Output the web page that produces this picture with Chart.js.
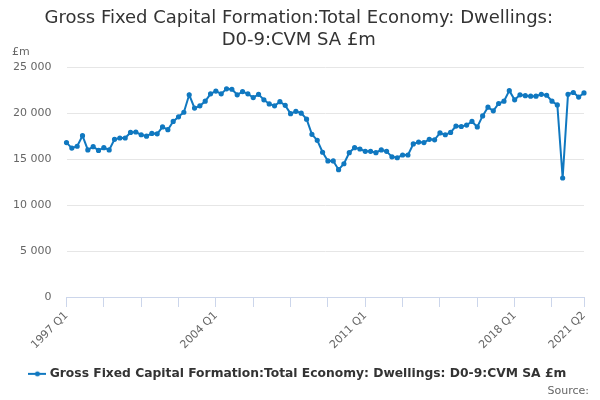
<!DOCTYPE html>
<html lang="en">
  <head>
    <meta charset="UTF-8" />
    <title>Dwellings GFCF</title>
    <script src="https://cdn.jsdelivr.net/npm/chart.js"></script>
    <style>
      body {
        margin: 0;
        background: #ffffff;
        font-family: "DejaVu Sans", sans-serif;
      }
      .wrap {
        position: relative;
        width: 600px;
        height: 400px;
      }
      .unit {
        position: absolute;
        left: 12px;
        top: 45px;
        font-size: 11px;
        color: #666666;
      }
      .source {
        position: absolute;
        right: 11px;
        top: 384px;
        font-size: 11px;
        color: #666666;
      }
    </style>
  </head>
  <body>
    <div class="wrap">
      <canvas id="gfcfChart" width="600" height="400"></canvas>
      <div class="unit">£m</div>
      <div class="source">Source:</div>
    </div>

    <script>
      const seriesName = "Gross Fixed Capital Formation:Total Economy: Dwellings: D0-9:CVM SA £m";
      const firstYear = 1997;
      const lastLabel = "2021 Q2";
      const shownLabels = ["1997 Q1", "2004 Q1", "2011 Q1", "2018 Q1", "2021 Q2"];

      // quarterly, 1997 Q1 .. 2021 Q2 (£m)
      const dwellings = [
        16800, 16200, 16400, 17550, 16000, 16350, 15950, 16250,
        16000, 17150, 17300, 17300, 17900, 17950, 17650, 17500,
        17800, 17750, 18500, 18200, 19100, 19600, 20100, 22000,
        20550, 20800, 21300, 22100, 22400, 22100, 22650, 22600,
        22000, 22350, 22100, 21700, 22050, 21450, 21000, 20800,
        21250, 20850, 19950, 20200, 20000, 19350, 17700, 17050,
        15750, 14800, 14800, 13850, 14500, 15700, 16250, 16100,
        15850, 15850, 15700, 16000, 15850, 15250, 15150, 15450,
        15450, 16650, 16850, 16800, 17150, 17100, 17850, 17650,
        17900, 18600, 18550, 18700, 19100, 18500, 19700, 20650,
        20250, 21050, 21300, 22450, 21450, 22000, 21900, 21850,
        21850, 22050, 21950, 21300, 20900, 12950, 22050, 22250,
        21750, 22200
      ];

      const quarters = [];
      for (let i = 0; i < dwellings.length; i++) {
        quarters.push(firstYear + Math.floor(i / 4) + " Q" + ((i % 4) + 1));
      }

      const yTicks = [0, 5000, 10000, 15000, 20000, 25000];
      const lineColor = "#1078c0";

      // legend symbol: short line with a dot
      const symbol = document.createElement("canvas");
      symbol.width = 18;
      symbol.height = 8;
      const sctx = symbol.getContext("2d");
      sctx.strokeStyle = lineColor;
      sctx.lineWidth = 2;
      sctx.beginPath();
      sctx.moveTo(0, 4);
      sctx.lineTo(18, 4);
      sctx.stroke();
      sctx.fillStyle = lineColor;
      sctx.beginPath();
      sctx.arc(9, 4, 2.5, 0, Math.PI * 2);
      sctx.fill();

      function isTickIndex(i) {
        return i % 7 === 0 || quarters[i] === lastLabel;
      }

      Chart.defaults.font.family = "'DejaVu Sans', sans-serif";

      new Chart(document.getElementById("gfcfChart").getContext("2d"), {
        type: "line",
        data: {
          labels: quarters,
          datasets: [
            {
              label: seriesName,
              data: dwellings,
              borderColor: lineColor,
              backgroundColor: lineColor,
              borderWidth: 2,
              pointRadius: 1.6,
              pointHoverRadius: 3,
              tension: 0,
              pointStyle: "circle",
            },
          ],
        },
        options: {
          responsive: false,
          animation: false,
          layout: { padding: { left: 13.5, right: 16, bottom: 10 } },
          plugins: {
            title: {
              display: true,
              text: [
                "Gross Fixed Capital Formation:Total Economy: Dwellings:",
                "D0-9:CVM SA £m",
              ],
              color: "#333333",
              font: { size: 18, weight: "normal" },
              padding: { top: 8, bottom: 16 },
            },
            legend: {
              position: "bottom",
              labels: {
                usePointStyle: true,
                pointStyle: symbol,
                color: "#333333",
                font: { size: 12.3, weight: "bold" },
                padding: 10,
                generateLabels(chart) {
                  return [{
                    text: seriesName,
                    pointStyle: symbol,
                    fontColor: "#333333",
                    datasetIndex: 0,
                    hidden: false,
                  }];
                },
              },
            },
            tooltip: { enabled: false },
          },
          scales: {
            x: {
              type: "category",
              offset: false,
              border: { color: "#ccd6eb", width: 1 },
              grid: {
                drawOnChartArea: false,
                drawTicks: true,
                tickLength: 10,
                color: (c) => (isTickIndex(c.index) ? "#ccd6eb" : "rgba(0,0,0,0)"),
              },
              ticks: {
                autoSkip: false,
                minRotation: 45,
                maxRotation: 45,
                color: "#666666",
                font: { size: 11 },
                padding: 2,
                callback: (val, i) => (shownLabels.includes(quarters[i]) ? quarters[i] : ""),
              },
              afterFit: (axis) => {
                axis.height += 4;
              },
            },
            y: {
              min: 0,
              max: 25000,
              afterBuildTicks: (axis) => {
                axis.ticks = yTicks.map((v) => ({ value: v }));
              },
              afterFit: (axis) => {
                axis.width = 53;
              },
              border: { display: false },
              grid: { color: "#e6e6e6", drawTicks: false },
              ticks: {
                color: "#666666",
                font: { size: 11 },
                padding: 15,
                callback: (v) => String(v).replace(/\B(?=(\d{3})+(?!\d))/g, " "),
              },
            },
          },
        },
      });
    </script>
  </body>
</html>
